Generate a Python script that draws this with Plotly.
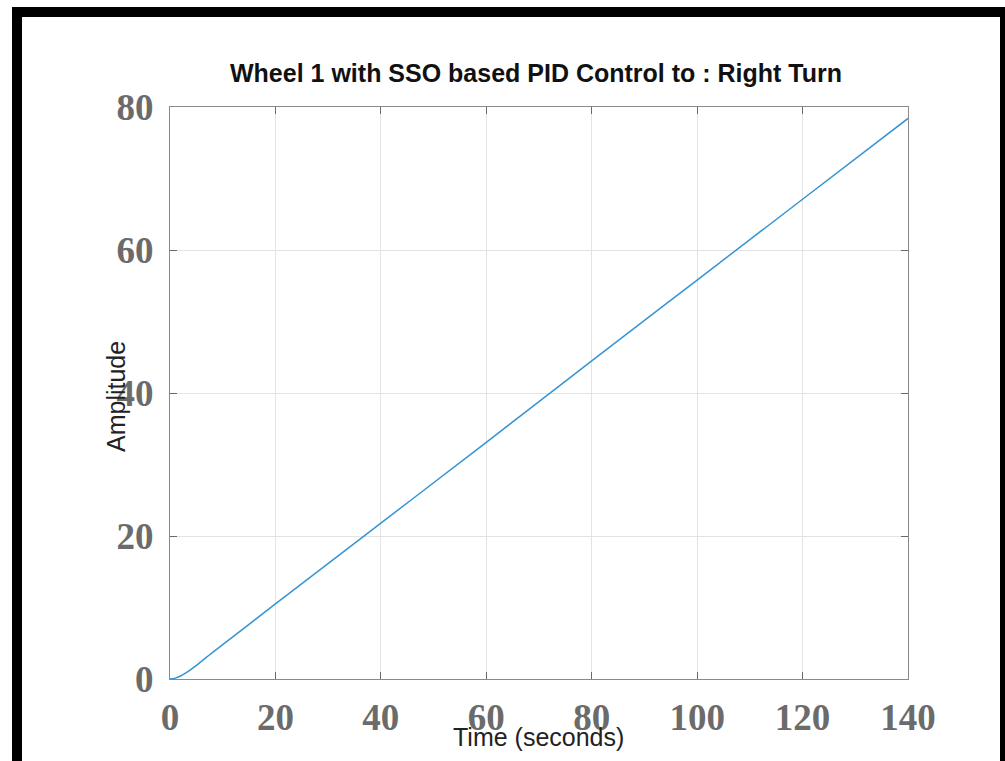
import plotly.graph_objects as go

time_s = [0, 1, 2, 3, 4, 5, 6, 7, 8, 10, 20, 40, 60, 80, 100, 120, 140]
amplitude = [0, 0.12, 0.42, 0.85, 1.35, 1.9, 2.5, 3.1, 3.66, 4.8, 10.5, 21.8, 33.1, 44.5, 55.8, 67.1, 78.4]
x_ticks = [0, 20, 40, 60, 80, 100, 120, 140]
y_ticks = [0, 20, 40, 60, 80]
title_text = "Wheel 1 with SSO based PID Control to : Right Turn"
x_label = "Time (seconds)"
y_label = "Amplitude"

W, H = 1005, 761
L, R, T, B = 170, 908, 107, 679

def px(x):
    return (x - L) / (R - L)

def py(y):
    return (B - y) / (B - T)

fig = go.Figure()
fig.add_trace(go.Scatter(x=time_s, y=amplitude, mode="lines",
                         line=dict(color="#3594d4", width=1.5), showlegend=False,
                         line_shape="spline"))

tick_font = dict(family="Liberation Serif", size=37, color="#6b6b6b")
axis_common = dict(showgrid=True, gridcolor="#e3e3e3", gridwidth=1,
                   showline=True, linecolor="#8a8a8a", linewidth=1, mirror="ticks",
                   ticks="inside", ticklen=7, tickcolor="#6a6a6a", tickwidth=1,
                   zeroline=False, tickfont=tick_font)

fig.update_xaxes(range=[0, 140], tickvals=x_ticks, ticktext=[f"<b>{v}</b>" for v in x_ticks],
                 ticklabelstandoff=6, **axis_common)
fig.update_yaxes(range=[0, 80], tickvals=y_ticks, ticktext=[f"<b>{v}</b>" for v in y_ticks],
                 ticklabelstandoff=8, **axis_common)

fig.add_annotation(text=f"<b>{title_text}</b>", xref="paper", yref="paper",
                   x=px(536), y=py(73), showarrow=False,
                   font=dict(family="Liberation Sans", size=25, color="#111111"),
                   xanchor="center", yanchor="middle")
fig.add_annotation(text=x_label, xref="paper", yref="paper",
                   x=px(538), y=py(737), showarrow=False,
                   font=dict(family="Liberation Sans", size=25, color="#222222"),
                   xanchor="center", yanchor="middle")
fig.add_annotation(text=y_label, xref="paper", yref="paper",
                   x=px(116), y=py(397), showarrow=False, textangle=-90,
                   font=dict(family="Liberation Sans", size=25, color="#222222"),
                   xanchor="center", yanchor="middle")

fig.add_shape(type="rect", xref="paper", yref="paper",
              x0=px(17), x1=px(1005), y0=py(800), y1=py(12),
              line=dict(color="black", width=10), fillcolor="rgba(0,0,0,0)", layer="above")

fig.update_layout(width=W, height=H, margin=dict(l=L, r=W - R, t=T, b=H - B),
                  paper_bgcolor="white", plot_bgcolor="white")

fig.write_html("out.html")
